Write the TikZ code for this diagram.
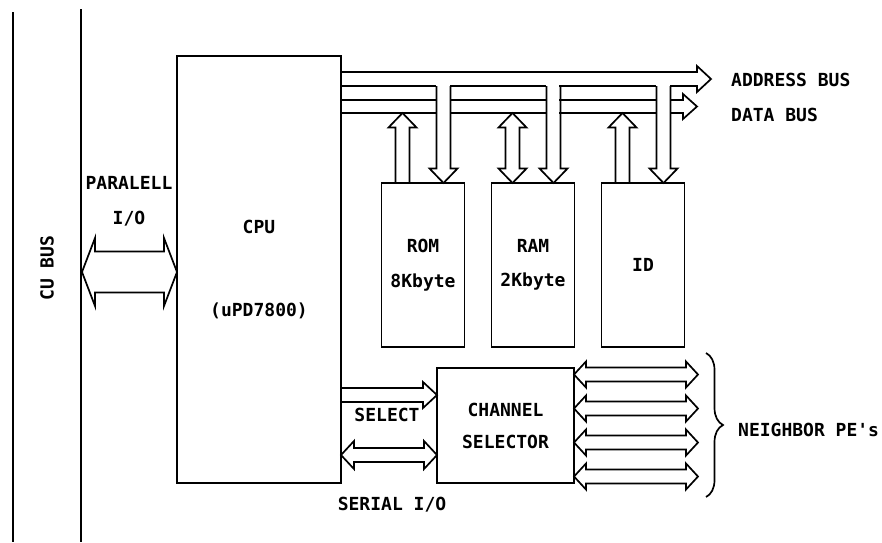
\documentclass[tikz,border=0pt]{standalone}
\usepackage{fontspec}
\setmonofont{DejaVu Sans Mono}
\usetikzlibrary{calc,positioning,decorations.pathreplacing}
\newcommand{\diafont}{\ttfamily\bfseries\fontsize{18}{22}\selectfont}
\tikzset{
  fatshaft/.store in=\fsw, fathead/.store in=\fhw, fatlen/.store in=\fhl,
  fatshaft=7pt, fathead=13pt, fatlen=14pt,
  % hollow bus arrows, head at the target
  rfat/.style={to path={let \p1=(\tikztostart), \p2=(\tikztotarget) in
    (\x1,\y1+\fsw) -- (\x2-\fhl,\y1+\fsw) -- (\x2-\fhl,\y1+\fhw) -- (\x2,\y1)
    -- (\x2-\fhl,\y1-\fhw) -- (\x2-\fhl,\y1-\fsw) -- (\x1,\y1-\fsw)}},
  lrfat/.style={to path={let \p1=(\tikztostart), \p2=(\tikztotarget) in
    (\x1,\y1) -- (\x1+\fhl,\y1+\fhw) -- (\x1+\fhl,\y1+\fsw) -- (\x2-\fhl,\y1+\fsw)
    -- (\x2-\fhl,\y1+\fhw) -- (\x2,\y1) -- (\x2-\fhl,\y1-\fhw) -- (\x2-\fhl,\y1-\fsw)
    -- (\x1+\fhl,\y1-\fsw) -- (\x1+\fhl,\y1-\fhw) -- cycle}},
  ufat/.style={to path={let \p1=(\tikztostart), \p2=(\tikztotarget) in
    (\x1-\fsw,\y1) -- (\x1-\fsw,\y2-\fhl) -- (\x1-\fhw,\y2-\fhl) -- (\x1,\y2)
    -- (\x1+\fhw,\y2-\fhl) -- (\x1+\fsw,\y2-\fhl) -- (\x1+\fsw,\y1)}},
  dfat/.style={to path={let \p1=(\tikztostart), \p2=(\tikztotarget) in
    (\x1-\fsw,\y1) -- (\x1-\fsw,\y2+\fhl) -- (\x1-\fhw,\y2+\fhl) -- (\x1,\y2)
    -- (\x1+\fhw,\y2+\fhl) -- (\x1+\fsw,\y2+\fhl) -- (\x1+\fsw,\y1)}},
  udfat/.style={to path={let \p1=(\tikztostart), \p2=(\tikztotarget) in
    (\x1,\y1) -- (\x1+\fhw,\y1-\fhl) -- (\x1+\fsw,\y1-\fhl) -- (\x1+\fsw,\y2+\fhl)
    -- (\x1+\fhw,\y2+\fhl) -- (\x1,\y2) -- (\x1-\fhw,\y2+\fhl) -- (\x1-\fsw,\y2+\fhl)
    -- (\x1-\fsw,\y1-\fhl) -- (\x1-\fhw,\y1-\fhl) -- cycle}}
}

\begin{document}
\begin{tikzpicture}[x=1pt, y=-1pt,
    bus/.style={draw, line width=1.7pt},
    box/.style={draw, line width=1.7pt, inner sep=0pt, outer sep=0pt, align=center, font=\diafont},
    lbl/.style={inner sep=0pt, font=\diafont}]
  \useasboundingbox (0,0) rectangle (882,542);
  % CU bus
  \draw[bus] (13,12) -- (13,542);
  \coordinate (cu top) at (81,9);
  \coordinate (cu bot) at (81,542);
  \draw[bus] (cu top) -- (cu bot);
  \node[lbl, rotate=90] (cubus) at (47,268) {CU BUS};

  % blocks
  \node[box, minimum width=164pt, minimum height=427pt] (cpu) at (259,269.5) {CPU\\[61pt](uPD7800)};
  \node[box, minimum width=83pt, minimum height=164pt] (rom) at (423,265) {ROM\\[13pt]8Kbyte};
  \node[box, minimum width=83pt, minimum height=164pt, right=27pt of rom] (ram) {RAM\\[12pt]2Kbyte};
  \node[box, minimum width=83pt, minimum height=164pt, right=27pt of ram] (id) {ID};
  \node[box, minimum width=137pt, minimum height=115pt] (chsel) at (505.5,425.5) {CHANNEL\\[10pt]SELECTOR};

  % parallel I/O
  \coordinate (pio) at (82,272);
  \coordinate (pio end) at (cpu.west |- pio);
  \draw[bus, fatshaft=20.5pt, fathead=34pt, fatlen=13pt] (pio) to[lrfat] (pio end);
  \node[lbl, align=center] (piolbl) at (129,201) {PARALELL\\[13pt]I/O};

  % address and data bus
  \draw[bus] (341,72) -- (697,72) -- (697,66) -- (711,79) -- (697,92) -- (697,86) -- (670,86);
  \draw[bus] (670,100) -- (683,100) -- (683,94) -- (697,106.5) -- (683,119) -- (683,113) -- (670,113);
  \foreach \a/\b in {341/436,450/546,559/656}
    \draw[bus] (\a,86) -- (\b,86) (\a,100) -- (\b,100) (\a,113) -- (\b,113);
  \node[lbl, anchor=west] (ablbl) at (731,80) {ADDRESS BUS};
  \node[lbl, anchor=west] (dblbl) at (731,115) {DATA BUS};

  \coordinate (abus) at (0,86);
  \coordinate (dbus) at (0,113);
  \begin{scope}[fatshaft=7pt, fathead=14pt, fatlen=14.5pt]
    \foreach \blk in {rom,ram,id} {
      \coordinate (\blk dn) at ($(\blk.north east)+(-21,0)$);
      \coordinate (\blk dn top) at (\blk dn |- abus);
      \draw[bus] (\blk dn top) to[dfat] (\blk dn);
    }
    \foreach \blk in {rom,id} {
      \coordinate (\blk up) at ($(\blk.north west)+(21,0)$);
      \coordinate (\blk up top) at (\blk up |- dbus);
      \draw[bus] (\blk up) to[ufat] (\blk up top);
    }
    \coordinate (ram up) at ($(ram.north west)+(21,0)$);
    \coordinate (ram up top) at (ram up |- dbus);
    \draw[bus] (ram up top) to[udfat] (ram up);
  \end{scope}

  % select and serial I/O
  \coordinate (sel) at ($(chsel.west)+(0,-30.5)$);
  \coordinate (ser) at ($(chsel.west)+(0,29.5)$);
  \coordinate (sel start) at (cpu.east |- sel);
  \coordinate (ser start) at (cpu.east |- ser);
  \draw[bus] (sel start) to[rfat] (sel);
  \draw[bus, fathead=14pt, fatlen=13pt] (ser start) to[lrfat] (ser);
  \node[lbl] (sellbl) at (387,415) {SELECT};
  \node[lbl] (serlbl) at (392,505) {SERIAL I/O};

  % neighbor channels
  \coordinate (pe end) at (698,0);
  \foreach \dy in {-51,-17,17,51} {
    \coordinate (nb) at ($(chsel.east)+(0,\dy)$);
    \coordinate (nb end) at (pe end |- nb);
    \draw[bus, fatlen=12pt] (nb) to[lrfat] (nb end);
  }
  \coordinate (br top) at (706,353);
  \coordinate (br bot) at (706,497);
  \draw[bus, decorate, decoration={brace, amplitude=17pt}] (br top) -- (br bot);
  \node[lbl, anchor=west] (pelbl) at (738,430) {NEIGHBOR PE's};
\end{tikzpicture}
\end{document}
